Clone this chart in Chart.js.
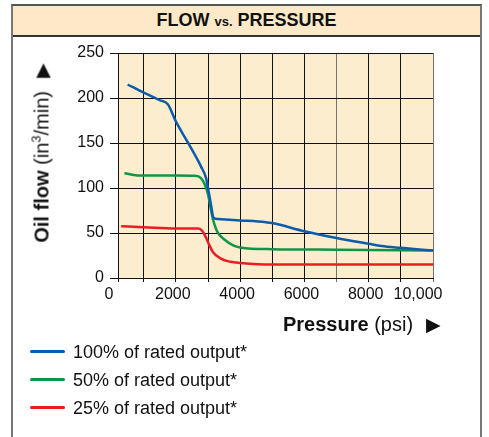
<!DOCTYPE html>
<html>
<head>
<meta charset="utf-8">
<script src="https://cdn.jsdelivr.net/npm/chart.js@4.4.1/dist/chart.umd.min.js"></script>
<style>
  html, body { margin: 0; padding: 0; background: #fff; }
  body { width: 489px; height: 437px; position: relative; overflow: hidden;
         font-family: "Liberation Sans", Arial, Helvetica, sans-serif; color: #111; }
  .frame { position: absolute; left: 11px; top: 4px; width: 471px; height: 460px;
           border: 2px solid #777; border-top-color: #555; box-sizing: border-box; }
  .title { height: 29px; background: #fde9c7; border-bottom: 2px solid #333;
           text-align: center; font-weight: bold; font-size: 18px; line-height: 29px; }
  .title small { font-size: 13px; }
  #chart { position: absolute; left: 0; top: 0; }
  .ytitle { position: absolute; left: 42px; top: 153px; white-space: nowrap; font-size: 20px;
            transform: translate(-50%, -50%) rotate(-90deg); }
  .xtitle { position: absolute; left: 283px; top: 313px; white-space: nowrap; font-size: 20px; }
  .arrow { font-family: "DejaVu Sans", sans-serif; font-size: 19px; margin-left: 13px; }
  sup { font-size: 13px; line-height: 0; }
  #legend { position: absolute; left: 30px; top: 340px; font-size: 18px; }
  #legend div { height: 28px; line-height: 24px; white-space: nowrap; }
  #legend i { display: inline-block; width: 35px; height: 3px; border-radius: 2px;
              vertical-align: middle; margin-right: 8px; position: relative; top: -2px; }
</style>
</head>
<body>
<div class="frame"><div class="title">FLOW <small>vs.</small> PRESSURE</div></div>
<canvas id="chart" width="489" height="437"></canvas>
<div class="ytitle"><b>Oil flow</b> (in<sup>3</sup>/min)<span class="arrow">&#9654;</span></div>
<div class="xtitle"><b>Pressure</b> (psi)<span class="arrow">&#9654;</span></div>
<div id="legend"></div>
<script>
// pressure (psi) / oil flow (in^3/min) readings per output level
const fullPsi  = [500, 1000, 1500, 1750, 2000, 2350, 2780, 2940, 3000, 3085, 3170, 3300, 4000, 4800, 5000, 6000, 7000, 8000, 8400, 9000, 10000];
const fullFlow = [215, 206, 197.5, 193, 174, 152, 124, 111, 100, 83, 67, 65.5, 64, 62, 61, 52, 44.5, 38, 35.5, 33.5, 30.5];

const halfPsi  = [400, 800, 1000, 2000, 2600, 2780, 2900, 3000, 3080, 3150, 3280, 3500, 3800, 4000, 5000, 7000, 10000];
const halfFlow = [116.5, 114, 114, 114, 113.5, 111, 104, 93, 78, 66, 52, 43, 36, 34, 32, 31.5, 30.5];

const quarterPsi  = [300, 1000, 2000, 2700, 2830, 2950, 3050, 3150, 3400, 3700, 4000, 5000, 10000];
const quarterFlow = [57.5, 56.5, 55, 55, 52, 44, 36, 29, 21.5, 18, 16.8, 15, 15];

const seriesLabels = ['100% of rated output*', '50% of rated output*', '25% of rated output*'];
const seriesColors = ['#0c5cab', '#0f9549', '#ec1c24'];

const psiTicks = [200, 1000, 2000, 3000, 4000, 5000, 6000, 7000, 8000, 9000, 10000];
const psiTickLabels = { 200: '0', 2000: '2000', 4000: '4000', 6000: '6000', 8000: '8000', 10000: '10,000' };
const flowTicks = [0, 50, 100, 150, 200, 250];

function toPoints(xs, ys) {
    return xs.map((x, i) => ({ x: x, y: ys[i] }));
}

const FONT = '"Liberation Sans", Arial, Helvetica, sans-serif';

// peach plot background
const plotBackground = {
    id: 'plotBackground',
    beforeDraw(chart) {
        const { ctx, chartArea: a } = chart;
        ctx.save();
        ctx.fillStyle = '#fdedcf';
        ctx.fillRect(a.left, a.top, a.right - a.left, a.bottom - a.top);
        ctx.restore();
    }
};

// x tick labels, nudged so the end labels sit inside the frame
const pressureLabels = {
    id: 'pressureLabels',
    afterDraw(chart) {
        const { ctx, scales: { x } } = chart;
        const nudge = { 200: -9, 10000: -15 };
        ctx.save();
        ctx.font = '16px ' + FONT;
        ctx.fillStyle = '#111';
        ctx.textAlign = 'center';
        ctx.textBaseline = 'middle';
        Object.keys(psiTickLabels).forEach(v => {
            const px = x.getPixelForValue(+v) + (nudge[v] !== undefined ? nudge[v] : -3);
            ctx.fillText(psiTickLabels[v], px, chart.chartArea.bottom + 17);
        });
        ctx.restore();
    }
};

function gridColor(c) {
    const v = c.tick && c.tick.value;
    return (v === 7000 || v === 10000) ? '#7a7268' : '#111';
}

const chart = new Chart(document.getElementById('chart'), {
    type: 'line',
    data: {
        datasets: [
            { label: seriesLabels[0], data: toPoints(fullPsi, fullFlow), borderColor: seriesColors[0] },
            { label: seriesLabels[1], data: toPoints(halfPsi, halfFlow), borderColor: seriesColors[1] },
            { label: seriesLabels[2], data: toPoints(quarterPsi, quarterFlow), borderColor: seriesColors[2] }
        ]
    },
    options: {
        responsive: false,
        animation: false,
        layout: { padding: { left: 0, top: 53, right: 56, bottom: 0 } },
        elements: {
            point: { radius: 0 },
            line: { borderWidth: 2.5, cubicInterpolationMode: 'monotone', fill: false }
        },
        plugins: { legend: { display: false }, tooltip: { enabled: false } },
        scales: {
            x: {
                type: 'linear',
                min: 200,
                max: 10000,
                afterBuildTicks: s => { s.ticks = psiTicks.map(v => ({ value: v })); },
                afterFit: s => { s.height = 437 - 278; },
                ticks: { display: false },
                grid: { color: gridColor, lineWidth: 1, tickLength: 4 },
                border: { color: '#111', width: 1 }
            },
            y: {
                min: 0,
                max: 250,
                afterBuildTicks: s => { s.ticks = flowTicks.map(v => ({ value: v })); },
                afterFit: s => { s.width = 118; },
                ticks: { color: '#111', padding: 6, font: { family: FONT, size: 16 } },
                grid: { color: '#111', lineWidth: 1, tickLength: 8 },
                border: { color: '#111', width: 1 }
            }
        }
    },
    plugins: [plotBackground, pressureLabels]
});

// legend list built from the datasets
document.getElementById('legend').innerHTML = chart.data.datasets
    .map(d => '<div><i style="background:' + d.borderColor + '"></i>' + d.label + '</div>')
    .join('');
</script>
</body>
</html>
